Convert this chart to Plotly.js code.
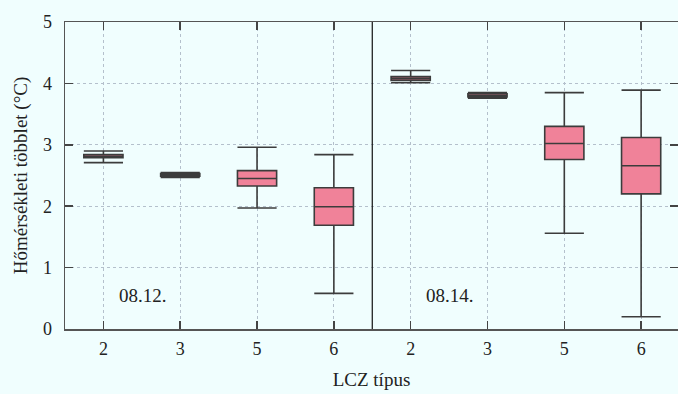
<!DOCTYPE html>
<html>
<head>
<meta charset="utf-8">
<script src="https://cdn.plot.ly/plotly-3.0.1.min.js"></script>
<style>html,body{margin:0;padding:0;background:#f0fefe;}#chart{width:678px;height:394px;}</style>
</head>
<body>
<div id="chart"></div>
<script>
// categories: LCZ types for the two dates
const positions = [0, 1, 2, 3, 4, 5, 6, 7];
const tickLabels = ['2', '3', '5', '6', '2', '3', '5', '6'];
const dateLabels = ['08.12.', '08.14.'];
// box statistics (°C)
const upperFence = [2.90, 2.55, 2.96, 2.84, 4.21, 3.85, 3.85, 3.89];
const q3Values   = [2.84, 2.53, 2.58, 2.30, 4.11, 3.83, 3.30, 3.12];
const medians    = [2.81, 2.51, 2.45, 1.99, 4.08, 3.80, 3.02, 2.66];
const q1Values   = [2.79, 2.49, 2.33, 1.69, 4.05, 3.78, 2.76, 2.20];
const lowerFence = [2.71, 2.47, 1.97, 0.58, 4.01, 3.76, 1.56, 0.20];

const serif = "'Liberation Serif', 'Times New Roman', Times, serif";

const trace = {
  type: 'box',
  x: positions,
  q1: q1Values,
  median: medians,
  q3: q3Values,
  lowerfence: lowerFence,
  upperfence: upperFence,
  boxpoints: false,
  width: 0.51,
  whiskerwidth: 1,
  fillcolor: '#f08299',
  line: {color: '#3c3c3c', width: 1.6},
  hoverinfo: 'skip',
  showlegend: false
};

const layout = {
  width: 678, height: 394,
  paper_bgcolor: '#f0fefe',
  plot_bgcolor: '#f0fefe',
  margin: {l: 65, r: 0, t: 22, b: 65},
  font: {family: serif, size: 18, color: '#222'},
  xaxis: {
    range: [-0.5, 7.48],
    tickvals: positions,
    ticktext: tickLabels,
    ticks: 'inside', ticklen: 8, tickwidth: 1.5, tickcolor: '#444',
    showline: true, linecolor: '#555', linewidth: 1.5, mirror: 'ticks',
    showgrid: true, gridcolor: '#b4c0cc', griddash: 'dot', gridwidth: 1,
    zeroline: false,
    ticklabelstandoff: 3,
    tickfont: {family: serif, size: 18, color: '#222'},
    title: {text: 'LCZ típus', font: {family: serif, size: 19, color: '#222'}, standoff: 14}
  },
  yaxis: {
    range: [0, 5],
    tickvals: [0, 1, 2, 3, 4, 5],
    ticks: 'inside', ticklen: 8, tickwidth: 1.5, tickcolor: '#444',
    showline: true, linecolor: '#555', linewidth: 1.5, mirror: 'ticks',
    showgrid: true, gridcolor: '#b4c0cc', griddash: 'dot', gridwidth: 1,
    zeroline: false,
    ticklabelstandoff: 8,
    tickfont: {family: serif, size: 18, color: '#222'},
    title: {text: 'Hőmérsékleti többlet (°C)', font: {family: serif, size: 19, color: '#222'}, standoff: 10}
  },
  shapes: [
    {type: 'line', xref: 'x', yref: 'paper', x0: 3.5, x1: 3.5, y0: 0, y1: 1,
     line: {color: '#111', width: 1.2}}
  ],
  annotations: [
    {x: 0.515, y: 0.54, xref: 'x', yref: 'y', text: dateLabels[0], showarrow: false,
     font: {family: serif, size: 19, color: '#222'}},
    {x: 4.51, y: 0.54, xref: 'x', yref: 'y', text: dateLabels[1], showarrow: false,
     font: {family: serif, size: 19, color: '#222'}}
  ]
};

Plotly.newPlot('chart', [trace], layout, {displayModeBar: false, staticPlot: true});
</script>
</body>
</html>
